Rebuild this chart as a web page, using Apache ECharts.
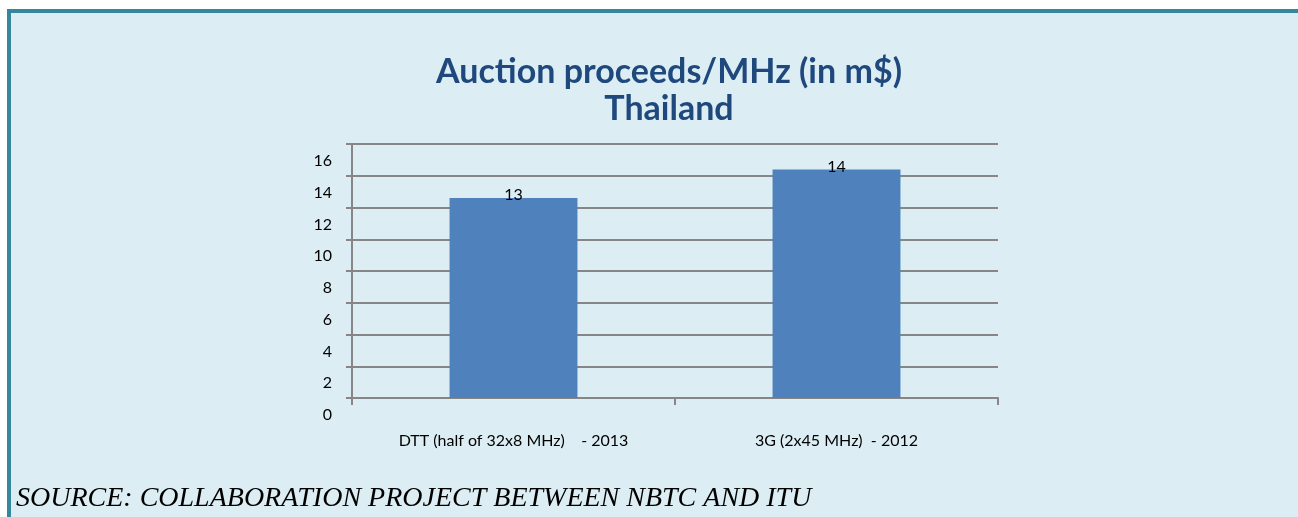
<!DOCTYPE html>
<html>
<head>
<meta charset="utf-8">
<script src="https://cdn.jsdelivr.net/npm/echarts@6/dist/echarts.min.js"></script>
<style>
    html, body { margin: 0; padding: 0; background: #fff; }
    #chart { width: 1298px; height: 517px; }
</style>
</head>
<body>
<div id="chart"></div>
<script>
// data
var categories = ['DTT (half of 32x8 MHz)    - 2013', '3G (2x45 MHz)  - 2012'];
var proceeds = [12.6, 14.4];
var yTicks = [0, 2, 4, 6, 8, 10, 12, 14, 16];

var chart = echarts.init(document.getElementById('chart'));

var option = {
    backgroundColor: '#ffffff',
    animation: false,
    graphic: [
        // panel background and the teal border on top / left
        { type: 'rect', shape: { x: 7, y: 9, width: 1291, height: 508 }, style: { fill: '#dceef4' }, z: -10 },
        { type: 'rect', shape: { x: 7, y: 9, width: 1291, height: 4 }, style: { fill: '#35879e' }, z: -9 },
        { type: 'rect', shape: { x: 7, y: 9, width: 4, height: 508 }, style: { fill: '#35879e' }, z: -9 },
        {
            type: 'text', left: 16, top: 485,
            style: {
                text: 'SOURCE: COLLABORATION PROJECT BETWEEN NBTC AND ITU',
                font: 'italic 28px "Liberation Serif", "DejaVu Serif", serif',
                fill: '#000'
            }
        },
        {
            type: 'text', x: 669, y: 54,
            style: {
                text: 'Auction proceeds/MHz (in m$)\nThailand',
                align: 'center',
                fill: '#1f497d',
                font: 'bold 34px Lato',
                lineHeight: 37
            }
        }
    ],
    grid: { left: 352, top: 144, right: 300, bottom: 119 },
    xAxis: {
        type: 'category',
        data: categories,
        axisLine: { lineStyle: { color: '#868686', width: 2 } },
        axisTick: { show: true, length: 7, lineStyle: { color: '#868686', width: 2 } },
        axisLabel: { color: '#000', fontFamily: 'Lato', fontSize: 16, margin: 35 }
    },
    yAxis: {
        type: 'value',
        min: 0,
        max: 16,
        interval: 2,
        axisLine: { show: true, lineStyle: { color: '#868686', width: 2 } },
        axisTick: { show: true, length: 6, lineStyle: { color: '#868686', width: 2 } },
        splitLine: { lineStyle: { color: '#868686', width: 2 } },
        axisLabel: {
            color: '#000', fontFamily: 'Lato', fontSize: 16, margin: 20,
            verticalAlign: 'top',
            lineHeight: 28,
            padding: [3, 0, 0, 0],
            showMinLabel: true,
            showMaxLabel: true,
            hideOverlap: false,
            formatter: function (v) { return yTicks.indexOf(v) >= 0 ? String(v) : ''; }
        }
    },
    series: [{
        type: 'bar',
        data: proceeds,
        barWidth: '39.6%',
        itemStyle: { color: '#4f81bd' },
        label: {
            show: true,
            position: 'top',
            distance: -5,
            color: '#000',
            fontFamily: 'Lato',
            fontSize: 16,
            formatter: function (p) { return Math.round(p.value); }
        }
    }]
};

chart.setOption(option);
</script>
</body>
</html>
